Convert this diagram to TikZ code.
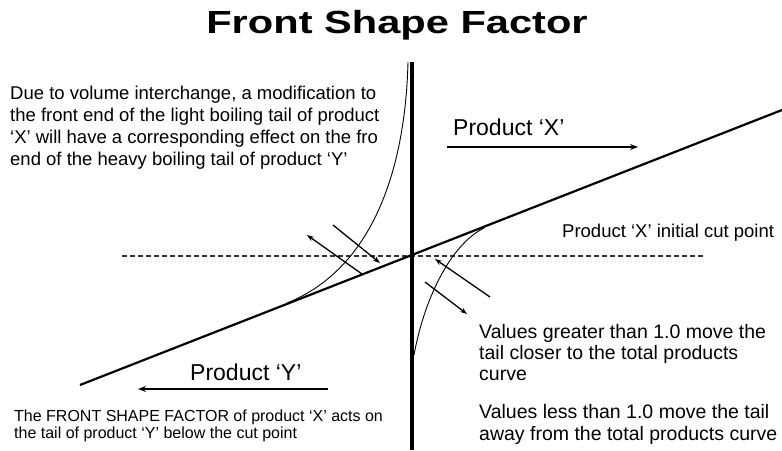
\documentclass[tikz,border=0pt]{standalone}
\usepackage{fontspec}
\setmainfont{Liberation Sans}
\newfontfamily\titlefont{Liberation Sans}[FakeStretch=1.3]
\usetikzlibrary{arrows.meta}

\begin{document}
\begin{tikzpicture}[
  x=1pt, y=-1pt,
  >=Stealth,
  note/.style={
    inner sep=0pt,
    align=left,
    anchor=north west
  },
  prodlabel/.style={
    inner sep=0pt,
    anchor=base west,
    font=\fontsize{23}{26}\selectfont
  },
  tailcurve/.style={line width=0.9pt},
  shiftarrow/.style={-{Stealth[length=7pt,width=5pt]}, line width=1.3pt},
  flowarrow/.style={-{Stealth[length=8pt,width=6pt]}, line width=1.2pt}
]
  \useasboundingbox (0,0) rectangle (782,450);

  % Title
  \node[font=\titlefont\bfseries\fontsize{32}{36}\selectfont, anchor=base, inner sep=0pt] (title) at (397,33) {Front Shape Factor};

  % Axes: cut line, total products line, vertical cut
  \coordinate (axtop) at (412,62);
  \coordinate (axbot) at (412,450);
  \coordinate (ylow) at (80,385);
  \coordinate (xhigh) at (782,110);
  \coordinate (cutl) at (122,256);
  \coordinate (cutr) at (705,256);

  \draw[dash pattern=on 5pt off 3pt, line width=1.3pt, black!80] (cutl) -- (cutr);
  \draw[line width=2.2pt] (ylow) -- (xhigh);
  \draw[line width=3.5pt] (axtop) -- (axbot);

  % Tails of product 'Y' (left) and product 'X' (right)
  \draw[tailcurve] (287,303) .. controls (367,271) and (405,180) .. (408,62);
  \draw[tailcurve] (484,228) .. controls (450,245) and (424,300) .. (414,355);

  % Shape factor arrows
  \coordinate (ya1) at (362,274); \coordinate (yb1) at (307,235);
  \coordinate (ya2) at (333,225); \coordinate (yb2) at (380,263);
  \coordinate (xa1) at (490,297); \coordinate (xb1) at (435,259);
  \coordinate (xa2) at (425,282); \coordinate (xb2) at (467,314);
  \draw[shiftarrow] (ya1) -- (yb1);
  \draw[shiftarrow] (ya2) -- (yb2);
  \draw[shiftarrow] (xa1) -- (xb1);
  \draw[shiftarrow] (xa2) -- (xb2);

  % Product direction arrows
  \coordinate (xs) at (447,147); \coordinate (xe) at (638,147);
  \coordinate (ys) at (328,389); \coordinate (ye) at (138,389);
  \draw[flowarrow] (xs) -- (xe);
  \draw[flowarrow] (ys) -- (ye);

  \node[prodlabel] (prodx) at (453,135) {Product ‘X’};
  \node[prodlabel] (prody) at (190,380) {Product ‘Y’};

  % Notes
  \node[note, font=\fontsize{18.5}{22}\selectfont] (interchange) at (10,85.5) {
    Due to volume interchange, a modification to\\
    the front end of the light boiling tail of product\\
    ‘X’ will have a corresponding effect on the fro\\
    end of the heavy boiling tail of product ‘Y’};

  \node[inner sep=0pt, anchor=base west, font=\fontsize{18.5}{22}\selectfont] (cutlabel) at (562,237) {Product ‘X’ initial cut point};

  \node[note, font=\fontsize{19.5}{21}\selectfont] (greater) at (479,323.8) {
    Values greater than 1.0 move the\\
    tail closer to the total products\\
    curve};

  \node[note, font=\fontsize{19.5}{22}\selectfont] (less) at (479,403.8) {
    Values less than 1.0 move the tail\\
    away from the total products curve};

  \node[note, font=\fontsize{16}{17}\selectfont] (footnote) at (14,409.3) {
    The FRONT SHAPE FACTOR of product ‘X’ acts on\\
    the tail of product ‘Y’ below the cut point};

\end{tikzpicture}
\end{document}
